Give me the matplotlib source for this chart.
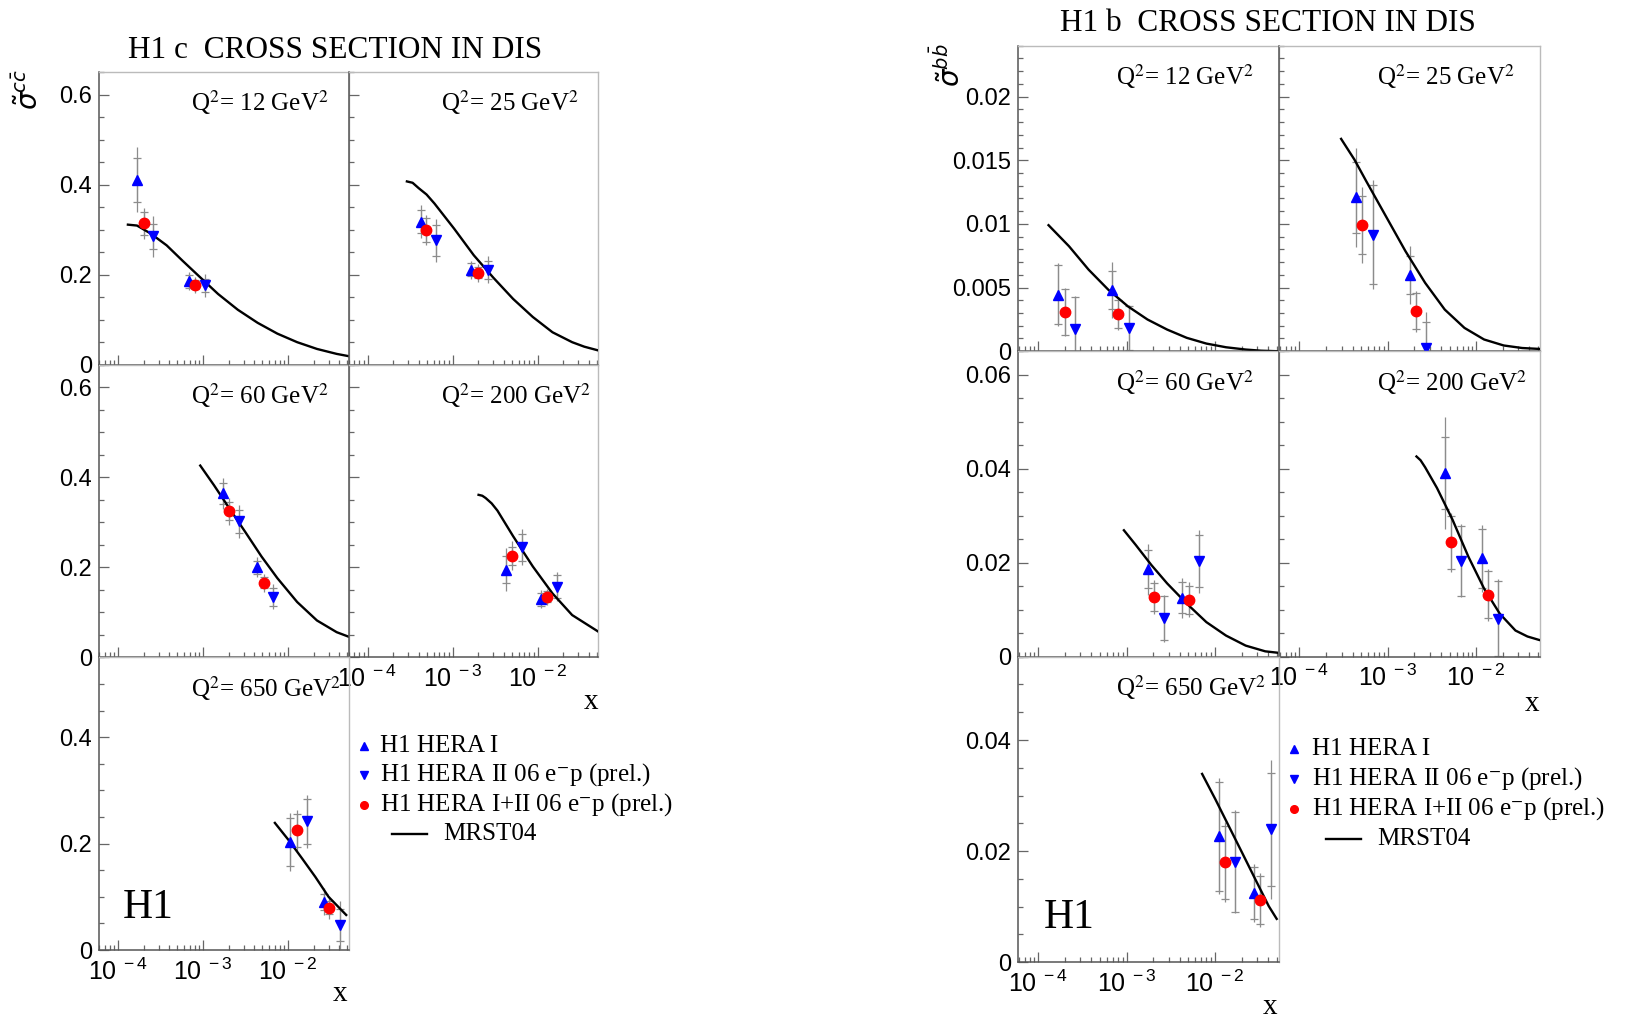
import numpy as np
import matplotlib
matplotlib.use('Agg')
import matplotlib.pyplot as plt
from matplotlib.ticker import MultipleLocator, LogLocator, FuncFormatter, NullFormatter
from matplotlib.lines import Line2D

plt.rcParams['font.family'] = 'Liberation Serif'
plt.rcParams['mathtext.fontset'] = 'custom'
plt.rcParams['mathtext.rm'] = 'Liberation Sans'
plt.rcParams['mathtext.it'] = 'Liberation Sans:italic'

W, H = 1632, 1018

# ---------------- data (log10 x, value, stat err, total err) -------------
Q2 = [12, 25, 60, 200, 650]

# charm, H1 HERA I (up triangles)
c_h1_lgx = [[-3.777, -3.167], [-3.375, -2.782], [-2.767, -2.367], [-2.370, -1.954], [-1.974, -1.580]]
c_h1_y = [[0.411, 0.185], [0.318, 0.211], [0.364, 0.200], [0.195, 0.129], [0.203, 0.091]]
c_h1_stat = [[0.049, 0.015], [0.026, 0.015], [0.023, 0.015], [0.030, 0.015], [0.045, 0.015]]
c_h1_tot = [[0.072, 0.020], [0.036, 0.020], [0.035, 0.022], [0.047, 0.020], [0.055, 0.025]]
# charm, H1 HERA II 06 e-p (down triangles)
c_h2_lgx = [[-3.591, -2.981], [-3.190, -2.583], [-2.581, -2.172], [-2.185, -1.773], [-1.782, -1.394]]
c_h2_y = [[0.285, 0.176], [0.276, 0.211], [0.302, 0.135], [0.245, 0.157], [0.242, 0.048]]
c_h2_stat = [[0.027, 0.015], [0.035, 0.020], [0.025, 0.020], [0.030, 0.025], [0.042, 0.030]]
c_h2_tot = [[0.045, 0.025], [0.048, 0.030], [0.036, 0.028], [0.040, 0.032], [0.050, 0.045]]
# charm, H1 HERA I+II combined (red circles)
c_h12_lgx = [[-3.698, -3.098], [-3.310, -2.704], [-2.693, -2.288], [-2.306, -1.889], [-1.896, -1.513]]
c_h12_y = [[0.314, 0.177], [0.299, 0.204], [0.325, 0.166], [0.226, 0.135], [0.225, 0.080]]
c_h12_stat = [[0.025, 0.010], [0.026, 0.012], [0.020, 0.012], [0.020, 0.012], [0.031, 0.012]]
c_h12_tot = [[0.035, 0.018], [0.033, 0.020], [0.030, 0.020], [0.032, 0.018], [0.038, 0.022]]
# charm, MRST04
c_th_lgx = [
    [-3.884, -3.777, -3.614, -3.428, -3.242, -3.056, -2.823, -2.591, -2.358, -2.126, -1.893, -1.660, -1.428, -1.288],
    [-3.537, -3.470, -3.398, -3.306, -3.213, -2.981, -2.750, -2.519, -2.287, -2.056, -1.824, -1.593, -1.450, -1.292],
    [-3.033, -2.870, -2.684, -2.498, -2.312, -2.126, -1.893, -1.660, -1.428, -1.288],
    [-2.694, -2.650, -2.611, -2.540, -2.472, -2.287, -2.056, -1.824, -1.593, -1.292],
    [-2.155, -1.990, -1.834, -1.679, -1.523, -1.316],
]
c_th_y = [
    [0.311, 0.309, 0.291, 0.265, 0.231, 0.198, 0.157, 0.122, 0.093, 0.069, 0.050, 0.035, 0.024, 0.019],
    [0.407, 0.404, 0.392, 0.378, 0.358, 0.302, 0.243, 0.193, 0.146, 0.106, 0.072, 0.050, 0.040, 0.032],
    [0.426, 0.382, 0.329, 0.277, 0.224, 0.176, 0.123, 0.082, 0.056, 0.046],
    [0.361, 0.359, 0.354, 0.342, 0.326, 0.269, 0.202, 0.142, 0.094, 0.058],
    [0.239, 0.206, 0.172, 0.1375, 0.100, 0.066],
]

# beauty, H1 HERA I
b_h1_lgx = [[-3.778, -3.164], [-3.356, -2.751], [-2.764, -2.373], [-2.356, -1.938], [-1.955, -1.558]]
b_h1_y = [[0.00445, 0.00479], [0.01209, 0.0060], [0.0186, 0.0125], [0.0391, 0.0209], [0.0227, 0.0124]]
b_h1_stat = [[0.0023, 0.0015], [0.0028, 0.0015], [0.0040, 0.0033], [0.0076, 0.0063], [0.0098, 0.0047]]
b_h1_tot = [[0.0025, 0.0022], [0.0039, 0.0023], [0.0054, 0.0042], [0.0120, 0.0072], [0.0105, 0.0052]]
# beauty, H1 HERA II 06 e-p
b_h2_lgx = [[-3.582, -2.978], [-3.169, -2.569], [-2.578, -2.178], [-2.169, -1.751], [-1.769, -1.367]]
b_h2_y = [[0.00175, 0.00183], [0.00916, 0.00026], [0.0082, 0.0203], [0.0204, 0.0081], [0.0181, 0.0239]]
b_h2_stat = [[0.0025, 0.0017], [0.0039, 0.0020], [0.0047, 0.0055], [0.0075, 0.0080], [0.0090, 0.0101]]
b_h2_tot = [[0.0026, 0.0018], [0.0043, 0.0028], [0.0050, 0.0067], [0.0078, 0.0085], [0.0093, 0.0125]]
# beauty, H1 HERA I+II combined
b_h12_lgx = [[-3.698, -3.093], [-3.289, -2.680], [-2.693, -2.293], [-2.284, -1.867], [-1.889, -1.492]]
b_h12_y = [[0.00306, 0.00296], [0.00992, 0.00314], [0.0127, 0.0121], [0.0243, 0.0132], [0.0180, 0.0112]]
b_h12_stat = [[0.0018, 0.0011], [0.0023, 0.0014], [0.0030, 0.0030], [0.0057, 0.0050], [0.0066, 0.0044]]
b_h12_tot = [[0.0019, 0.0013], [0.0030, 0.0016], [0.0037, 0.0037], [0.0063, 0.0055], [0.0072, 0.0049]]
# beauty, MRST04
b_th_lgx = [
    [-3.884, -3.653, -3.431, -3.209, -2.987, -2.764, -2.542, -2.320, -2.098, -1.876, -1.653, -1.480, -1.300],
    [-3.529, -3.378, -3.244, -3.022, -2.800, -2.578, -2.356, -2.133, -1.911, -1.689, -1.480, -1.289],
    [-3.031, -2.898, -2.720, -2.542, -2.320, -2.098, -1.876, -1.653, -1.431, -1.298],
    [-2.676, -2.630, -2.578, -2.444, -2.267, -2.089, -1.911, -1.733, -1.556, -1.420, -1.289],
    [-2.146, -1.995, -1.844, -1.693, -1.543, -1.392, -1.302],
]
b_th_y = [
    [0.0099, 0.00825, 0.00641, 0.00484, 0.00353, 0.00249, 0.0017, 0.00105, 0.0006, 0.00031, 0.00013, 0.00004, 0.0],
    [0.01668, 0.01505, 0.01335, 0.0106, 0.00785, 0.00537, 0.00327, 0.00183, 0.00092, 0.00045, 0.00025, 0.00018],
    [0.0269, 0.0238, 0.0195, 0.0156, 0.0113, 0.00736, 0.0045, 0.00236, 0.00114, 0.00086],
    [0.0426, 0.0418, 0.0403, 0.0359, 0.0291, 0.0213, 0.0145, 0.00914, 0.00557, 0.0043, 0.00357],
    [0.0339, 0.0293, 0.0245, 0.0197, 0.0149, 0.0101, 0.0078],
]

legend_labels = ['H1 HERA I', 'H1 HERA II 06 e$^{-}$p (prel.)', 'H1 HERA I+II 06 e$^{-}$p (prel.)', 'MRST04']

BLUE = '#0000ff'
RED = '#ff0000'
ERR = '#8c8c8c'
SERIF = 'Liberation Serif'
SANS = 'Liberation Sans'

fig = plt.figure(figsize=(W / 100, H / 100), dpi=100)


def px_axes(x0, y0, w, h):
    # pixel box (top-left origin) -> figure axes, transparent so tick labels of neighbours stay visible
    ax = fig.add_axes([x0 / W, 1 - (y0 + h) / H, w / W, h / H])
    ax.patch.set_visible(False)
    return ax


def ylab_fmt(v, _):
    if abs(v) < 1e-12:
        return '0'
    return '%g' % v


def xlab_fmt(v, _):
    return r'$10^{\ %d}$' % int(round(np.log10(v)))


def draw_points(ax, lgx, y, stat, tot, marker, color):
    x = 10 ** np.array(lgx)
    ax.errorbar(x, y, yerr=tot, fmt='none', ecolor=ERR, elinewidth=0.9, capsize=0, zorder=2)
    ax.errorbar(x, y, yerr=stat, fmt='none', ecolor=ERR, elinewidth=0.9, capsize=3, capthick=0.9, zorder=2)
    ax.plot(x, y, ls='none', marker=marker, color=color, ms=7.5, mec=color, zorder=4)


def style(ax, xlim, ylim, ymaj, ymin, show_x, show_y):
    ax.set_xscale('log')
    ax.set_xlim(xlim)
    ax.set_ylim(ylim)
    ax.yaxis.set_major_locator(MultipleLocator(ymaj))
    ax.yaxis.set_minor_locator(MultipleLocator(ymin))
    ax.yaxis.set_major_formatter(FuncFormatter(ylab_fmt))
    ax.xaxis.set_major_locator(LogLocator(10, numticks=10))
    ax.xaxis.set_minor_locator(LogLocator(10, subs=np.arange(2, 10), numticks=50))
    ax.xaxis.set_major_formatter(FuncFormatter(xlab_fmt))
    ax.xaxis.set_minor_formatter(NullFormatter())
    ax.tick_params(which='both', direction='in', top=False, right=False, color='#666666', width=0.9,
                   labelfontfamily=SANS)
    ax.tick_params(which='major', length=7.5)
    ax.tick_params(which='minor', length=3.6)
    ax.tick_params(axis='x', pad=6, labelbottom=show_x, labelsize=18)
    ax.tick_params(axis='y', pad=5, labelleft=show_y, labelsize=17)
    for s in ['left', 'bottom']:
        ax.spines[s].set_color('#555555')
        ax.spines[s].set_linewidth(1.1)
    for s in ['top', 'right']:
        ax.spines[s].set_color('#bbbbbb')
        ax.spines[s].set_linewidth(1.0)


def chart(left, top, cw, rh, xlim, ylims, ymaj, ymin, sets, curves, q2x):
    cells = [(0, 0), (0, 1), (1, 0), (1, 1), (2, 0)]
    axes = []
    for i, (r, c) in enumerate(cells):
        ax = px_axes(left + c * cw, top + r * rh, cw, rh)
        style(ax, xlim, ylims[r], ymaj[r], ymin[r], i in (3, 4), c == 0)
        cx, cy = curves
        ax.plot(10 ** np.array(cx[i]), cy[i], color='black', lw=1.7, zorder=3)
        for lgx, y, st, tt, mk, col in sets:
            draw_points(ax, lgx[i], y[i], st[i], tt[i], mk, col)
        ax.text(q2x, 1 - 31 / rh, 'Q$^{2}$= %d GeV$^{2}$' % Q2[i], transform=ax.transAxes,
                ha='left', va='center', fontsize=18, family=SERIF, math_fontfamily='stix')
        axes.append(ax)
    return axes


def legend(mx, tx, lx0, lx1, ltx, rows):
    syms = [('^', BLUE), ('v', BLUE), ('o', RED)]
    for k, (mk, col) in enumerate(syms):
        fig.add_artist(Line2D([mx / W], [1 - rows[k] / H], marker=mk, color=col, ms=5.5, ls='none'))
        fig.text(tx / W, 1 - rows[k] / H, legend_labels[k], fontsize=18, family=SERIF,
                 math_fontfamily='stix', va='center', ha='left')
    fig.add_artist(Line2D([lx0 / W, lx1 / W], [1 - rows[3] / H] * 2, color='black', lw=1.7))
    fig.text(ltx / W, 1 - rows[3] / H, legend_labels[3], fontsize=18, family=SERIF, va='center', ha='left')


# ---------------- charm ----------------
c_sets = [
    (c_h1_lgx, c_h1_y, c_h1_stat, c_h1_tot, '^', BLUE),
    (c_h2_lgx, c_h2_y, c_h2_stat, c_h2_tot, 'v', BLUE),
    (c_h12_lgx, c_h12_y, c_h12_stat, c_h12_tot, 'o', RED),
]
c_axes = chart(99, 72, 249.5, 292.7, (10 ** -4.224, 10 ** -1.289),
               [(0, 0.65), (0, 0.65), (0, 0.55)], [0.2, 0.2, 0.2], [0.05, 0.05, 0.05],
               c_sets, (c_th_lgx, c_th_y), 0.37)
c_axes[4].text(0.095, 0.145, 'H1', transform=c_axes[4].transAxes, fontsize=30, family=SERIF,
               ha='left', va='center')
fig.text(335 / W, 1 - 50 / H, 'H1 c  CROSS SECTION IN DIS', fontsize=22.5, family=SERIF, ha='center', va='center')
fig.text(29 / W, 1 - 89 / H, r'$\tilde{\sigma}^{c\bar{c}}$', fontsize=20, rotation=90, ha='center', va='center',
         math_fontfamily='dejavusans')
fig.text(591 / W, 1 - 702 / H, 'x', fontsize=21, family=SERIF, ha='center', va='center')
fig.text(340 / W, 1 - 994 / H, 'x', fontsize=21, family=SERIF, ha='center', va='center')
legend(364, 380, 392, 427, 443, [746, 775, 804.5, 833.5])

# ---------------- beauty ----------------
b_sets = [
    (b_h1_lgx, b_h1_y, b_h1_stat, b_h1_tot, '^', BLUE),
    (b_h2_lgx, b_h2_y, b_h2_stat, b_h2_tot, 'v', BLUE),
    (b_h12_lgx, b_h12_y, b_h12_stat, b_h12_tot, 'o', RED),
]
b_axes = chart(1017.7, 45.7, 261.2, 305.5, (10 ** -4.233, 10 ** -1.277),
               [(0, 0.024), (0, 0.065), (0, 0.055)], [0.005, 0.02, 0.02], [0.001, 0.005, 0.005],
               b_sets, (b_th_lgx, b_th_y), 0.375)
b_axes[4].text(0.10, 0.145, 'H1', transform=b_axes[4].transAxes, fontsize=30, family=SERIF,
               ha='left', va='center')
fig.text(1268 / W, 1 - 23 / H, 'H1 b  CROSS SECTION IN DIS', fontsize=22.5, family=SERIF, ha='center', va='center')
fig.text(949 / W, 1 - 65 / H, r'$\tilde{\sigma}^{b\bar{b}}$', fontsize=20, rotation=90, ha='center', va='center',
         math_fontfamily='dejavusans')
fig.text(1532 / W, 1 - 704 / H, 'x', fontsize=21, family=SERIF, ha='center', va='center')
fig.text(1270 / W, 1 - 1007 / H, 'x', fontsize=21, family=SERIF, ha='center', va='center')
legend(1294, 1312, 1326, 1361, 1377, [749, 779, 809, 839])

fig.savefig('out.png', dpi=100)
